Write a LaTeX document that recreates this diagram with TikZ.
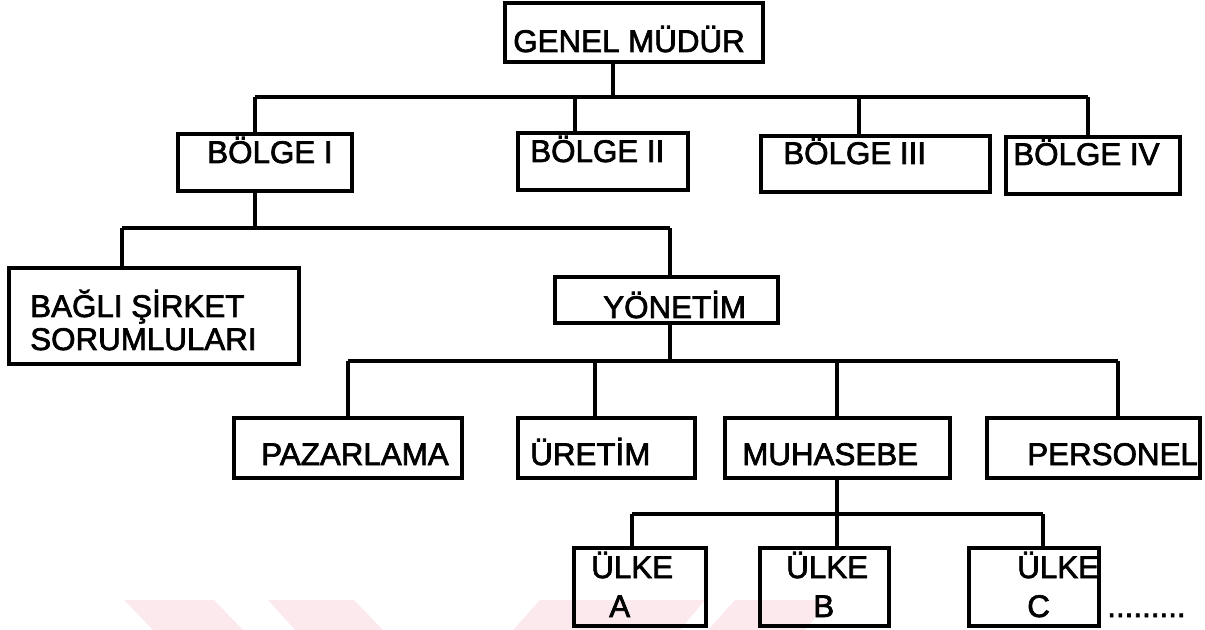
\documentclass[tikz,border=0pt]{standalone}
\usepackage{fontspec}
\setmainfont{Liberation Sans}[FakeBold=2.2]
\usetikzlibrary{fit}
\definecolor{wmpink}{HTML}{FCE9EE}
\begin{document}
\begin{tikzpicture}[x=0.75pt,y=-0.75pt,
  box/.style={draw, line width=2.6pt, inner sep=0pt, outer sep=0pt},
  linkline/.style={draw, line width=2.5pt},
  txt/.style={inner sep=0pt, anchor=base west, font=\fontsize{23.5}{28}\selectfont},
  wm/.style={fill=wmpink, draw=none}]
\useasboundingbox (0,0) rectangle (1205,630);
% faint watermark
\fill[wm] (124,600) -- (214,600) -- (243,630) -- (153,630) -- cycle;
\fill[wm] (268,600) -- (354,600) -- (383,630) -- (295,630) -- cycle;
\fill[wm] (540,600) -- (705,600) -- (680,630) -- (513,630) -- cycle;
\fill[wm] (735,600) -- (830,600) -- (805,630) -- (708,630) -- cycle;
% level 1
\node[box, fit={(505,3) (763,62)}] (gm) {};
\node[txt] (gmt) at (513,52) {GENEL MÜDÜR};
% level 2 boxes
\node[box, fit={(178,134) (352,191)}] (b1) {};
\node[txt] (b1t) at (207,163) {BÖLGE I};
\node[box, fit={(518,133) (688,190)}] (b2) {};
\node[txt] (b2t) at (530,162) {BÖLGE II};
\node[box, fit={(761,136) (990,192)}] (b3) {};
\node[txt] (b3t) at (783,164) {BÖLGE III};
\node[box, fit={(1006,137) (1180,194)}] (b4) {};
\node[txt] (b4t) at (1013,165) {BÖLGE IV};
% level 1 connectors
\coordinate (g0) at (613,97);
\coordinate (g1) at (255,97);
\coordinate (g2) at (575,97);
\coordinate (g3) at (859,97);
\coordinate (g4) at (1088,97);
\path[linkline] (gm.south -| g0) -- (g0);
\path[linkline] (g1) -- (g4);
\path[linkline] (g1) -- (g1 |- b1.north);
\path[linkline] (g2) -- (g2 |- b2.north);
\path[linkline] (g3) -- (g3 |- b3.north);
\path[linkline] (g4) -- (g4 |- b4.north);
% level 3
\node[box, fit={(9,268) (299,364)}] (bs) {};
\node[txt] (bst1) at (30,317) {BAĞLI ŞİRKET};
\node[txt] (bst2) at (30,350) {SORUMLULARI};
\node[box, fit={(555,277) (778,323)}] (yo) {};
\node[txt] (yot) at (603,318) {YÖNETİM};
\coordinate (h0) at (255,228);
\coordinate (h1) at (122,228);
\coordinate (h2) at (670,228);
\path[linkline] (b1.south -| h0) -- (h0);
\path[linkline] (h1) -- (h2);
\path[linkline] (h1) -- (h1 |- bs.north);
\path[linkline] (h2) -- (h2 |- yo.north);
% level 4
\node[box, fit={(234,418) (462,478)}] (pz) {};
\node[txt] (pzt) at (261,465) {PAZARLAMA};
\node[box, fit={(518,418) (695,478)}] (ur) {};
\node[txt] (urt) at (530,465) {ÜRETİM};
\node[box, fit={(725,418) (950,478)}] (mu) {};
\node[txt] (mut) at (742,465) {MUHASEBE};
\node[box, fit={(987,418) (1200,478)}] (pe) {};
\node[txt] (pet) at (1027,465) {PERSONEL};
\coordinate (k0) at (670,361);
\coordinate (k1) at (348,361);
\coordinate (k2) at (595,361);
\coordinate (k3) at (837,361);
\coordinate (k4) at (1118,361);
\path[linkline] (yo.south -| k0) -- (k0);
\path[linkline] (k1) -- (k4);
\path[linkline] (k1) -- (k1 |- pz.north);
\path[linkline] (k2) -- (k2 |- ur.north);
\path[linkline] (k3) -- (k3 |- mu.north);
\path[linkline] (k4) -- (k4 |- pe.north);
% level 5
\node[box, fit={(574,548) (706,626)}] (ua) {};
\node[txt] (uat1) at (591,578) {ÜLKE};
\node[txt] (uat2) at (609,617) {A};
\node[box, fit={(760,548) (889,626)}] (ub) {};
\node[txt] (ubt1) at (786,578) {ÜLKE};
\node[txt] (ubt2) at (813,617) {B};
\node[box, fit={(969,548) (1099,626)}] (uc) {};
\node[txt] (uct1) at (1017,578) {ÜLKE};
\node[txt] (uct2) at (1027,617) {C};
\node[txt] (dots) at (1107,617) {.........};
\coordinate (m0) at (837,514);
\coordinate (m1) at (632,514);
\coordinate (m2) at (1043,514);
\path[linkline] (mu.south -| m0) -- (m0);
\path[linkline] (m1) -- (m2);
\path[linkline] (m1) -- (m1 |- ua.north);
\path[linkline] (m0) -- (m0 |- ub.north);
\path[linkline] (m2) -- (m2 |- uc.north);
\end{tikzpicture}
\end{document}
